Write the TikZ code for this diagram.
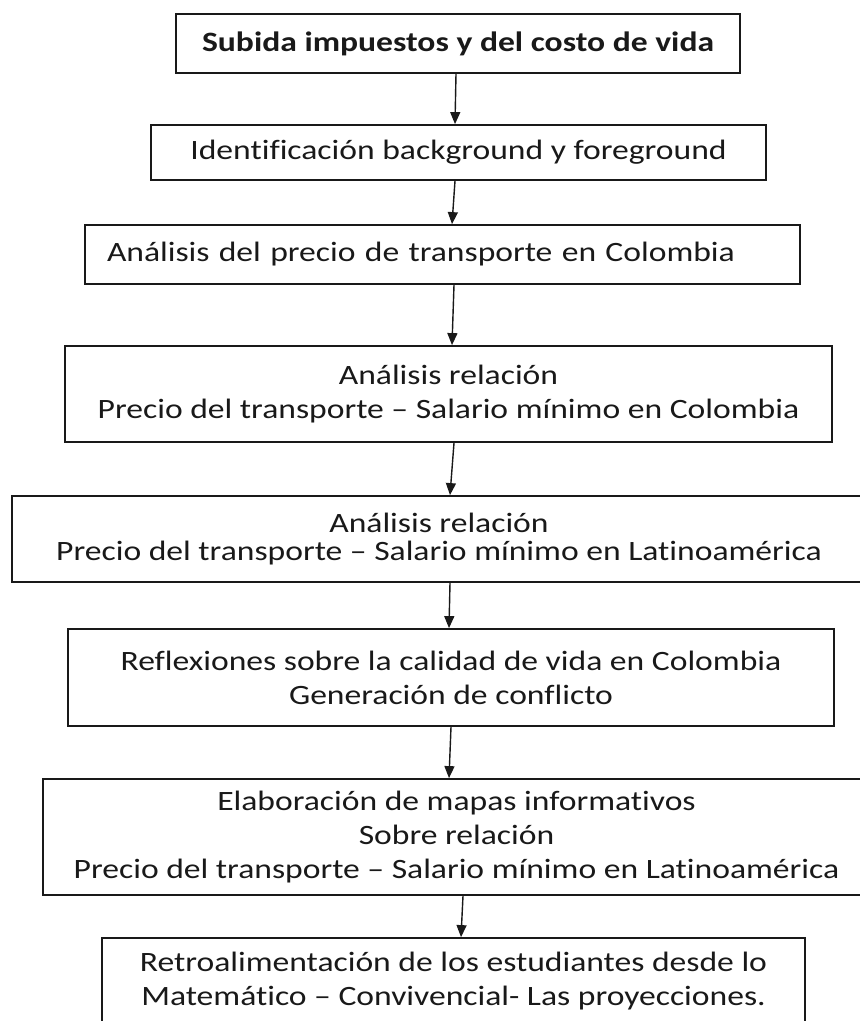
\documentclass[tikz,border=0pt]{standalone}
\usepackage{fontspec}
\setmainfont{Carlito}[FakeStretch=1.2, Ligatures={NoCommon}]
\usetikzlibrary{arrows.meta}
\begin{document}
\begin{tikzpicture}[x=1pt,y=-1pt,
  box/.style={draw=black!90, line width=1.8pt, inner sep=0pt, align=center,
    font=\fontsize{28}{34}\selectfont, text=black!90},
  arr/.style={draw=black!90, line width=1.4pt, -{Triangle[length=12pt,width=10pt]}}]
\useasboundingbox (0,0) rectangle (860,1021);
\clip (0,0) rectangle (860,1021);
\fill[white] (0,0) rectangle (860,1021);

\node[box, minimum width=564pt, minimum height=59pt] (b1) at (458,43.5)
  {\bfseries Subida impuestos y del costo de vida};
\node[box, minimum width=615pt, minimum height=55pt] (b2) at (458.5,152.5)
  {Identificación background y foreground};
\node[box, minimum width=715pt, minimum height=59pt, align=left,
  text width=671pt, inner xsep=22pt] (b3) at (442.5,254.5)
  {Análisis del precio de transporte en Colombia};
\node[box, minimum width=767pt, minimum height=96pt] (b4) at (448.5,394)
  {Análisis relación\\Precio del transporte – Salario mínimo en Colombia};
\node[box, minimum width=854pt, minimum height=86pt] (b5) at (439,539)
  {Análisis relación\\[-6pt]Precio del transporte – Salario mínimo en Latinoamérica};
\node[box, minimum width=766pt, minimum height=97pt] (b6) at (451,677.5)
  {Reflexiones sobre la calidad de vida en Colombia\\Generación de conflicto};
\node[box, minimum width=827pt, minimum height=116pt] (b7) at (456.5,837)
  {Elaboración de mapas informativos\\Sobre relación\\Precio del transporte – Salario mínimo en Latinoamérica};
\node[box, minimum width=703pt, minimum height=86pt] (b8) at (453.5,981)
  {Retroalimentación de los estudiantes desde lo\\Matemático – Convivencial- Las proyecciones.};

\draw[arr] (b1.south -| 456,0) -- (b2.north -| 455,0);
\draw[arr] (b2.south -| 455,0) -- (b3.north -| 452,0);
\draw[arr] (b3.south -| 454,0) -- (b4.north -| 452,0);
\draw[arr] (b4.south -| 454,0) -- (b5.north -| 450,0);
\draw[arr] (b5.south -| 450,0) -- (b6.north -| 449,0);
\draw[arr] (b6.south -| 451,0) -- (b7.north -| 449,0);
\draw[arr] (b7.south -| 463,0) -- (b8.north -| 461,0);
\end{tikzpicture}
\end{document}
